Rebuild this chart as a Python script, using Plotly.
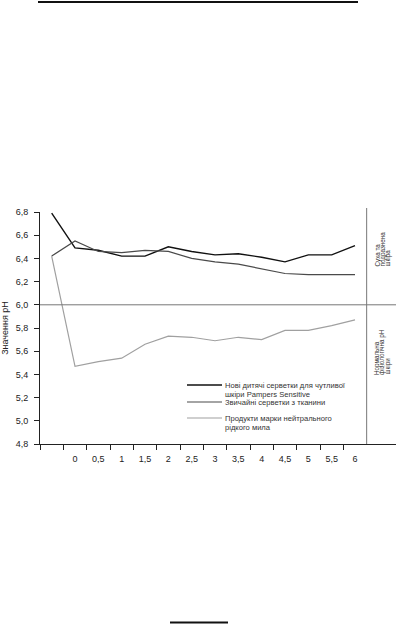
import plotly.graph_objects as go

# Data
x_labels = ["", "0", "0,5", "1", "1,5", "2", "2,5", "3", "3,5", "4", "4,5", "5", "5,5", "6"]
pampers = [6.79, 6.49, 6.47, 6.42, 6.42, 6.50, 6.46, 6.43, 6.44, 6.41, 6.37, 6.43, 6.43, 6.51]
cloth = [6.42, 6.55, 6.46, 6.45, 6.47, 6.46, 6.40, 6.37, 6.35, 6.31, 6.27, 6.26, 6.26, 6.26]
soap = [6.42, 5.47, 5.51, 5.54, 5.66, 5.73, 5.72, 5.69, 5.72, 5.70, 5.78, 5.78, 5.82, 5.87]
names = [
    ["Нові дитячі серветки для чутливої", "шкіри Pampers Sensitive"],
    ["Звичайні серветки з тканини"],
    ["Продукти марки нейтрального", "рідкого мила"],
]
y_ticks = [4.8, 5.0, 5.2, 5.4, 5.6, 5.8, 6.0, 6.2, 6.4, 6.6, 6.8]
y_ticktext = ["4,8", "5,0", "5,2", "5,4", "5,6", "5,8", "6,0", "6,2", "6,4", "6,6", "6,8"]
zone_top = ["Суха та", "подразнена", "шкіра"]
zone_bottom = ["Нормальна", "фізіологічна рН", "шкіри"]

W, H = 396, 624
L, R, T, B = 40, 396, 212, 444  # plot area in pixels

def px(x):
    return (x - L) / (R - L)

def py(y):
    return (B - y) / (B - T)

xs = list(range(len(x_labels)))
fig = go.Figure()
colors = ["#111111", "#4a4a4a", "#a0a0a0"]
widths = [1.4, 1.2, 1.2]
for vals, nm, c, w in zip([pampers, cloth, soap], names, colors, widths):
    fig.add_trace(go.Scatter(x=xs, y=vals, mode="lines", name=" ".join(nm),
                             line=dict(color=c, width=w), showlegend=False))

fig.update_layout(
    width=W, height=H,
    margin=dict(l=L, r=W - R, t=T, b=H - B),
    paper_bgcolor="white", plot_bgcolor="white",
    font=dict(family="Liberation Sans, Arial, sans-serif", color="#222", size=9),
    showlegend=False,
    xaxis=dict(range=[-0.5, 14.757], tickmode="array",
               tickvals=xs[1:], ticktext=x_labels[1:], ticks="outside",
               ticklen=6, tickcolor="rgba(0,0,0,0)", showgrid=False,
               showline=True, linecolor="#222", linewidth=1, zeroline=False,
               minor=dict(tickmode="array", tickvals=[i - 0.5 for i in range(14)],
                          ticks="outside", ticklen=5, tickcolor="#222", tickwidth=1),
               tickfont=dict(size=9)),
    yaxis=dict(range=[4.8, 6.8], tickmode="array", tickvals=y_ticks,
               ticktext=y_ticktext, ticks="outside", ticklen=5, tickcolor="#222",
               showgrid=False, showline=True, linecolor="#222", linewidth=1,
               zeroline=False, tickfont=dict(size=9), ticklabelstandoff=4,
               title=dict(text="Значення pH", font=dict(size=9), standoff=7)),
)

shapes = [
    dict(type="line", xref="paper", yref="y", x0=0, x1=1, y0=6.0, y1=6.0,
         line=dict(color="#777", width=1)),
    dict(type="line", xref="x", yref="paper", x0=13.5, x1=13.5, y0=0, y1=py(208),
         line=dict(color="#777", width=1)),
    dict(type="line", xref="paper", yref="paper", x0=px(38), x1=px(358), y0=py(2), y1=py(2),
         line=dict(color="#111", width=2)),
    dict(type="line", xref="paper", yref="paper", x0=px(170), x1=px(228), y0=py(622.5), y1=py(622.5),
         line=dict(color="#111", width=2)),
]
# manual legend
leg_y = [385, 402, 418]
for c, w, yy, nm in zip(colors, widths, leg_y, names):
    shapes.append(dict(type="line", xref="paper", yref="paper", x0=px(187), x1=px(222),
                       y0=py(yy), y1=py(yy), line=dict(color=c, width=w)))
    for j, line in enumerate(nm):
        fig.add_annotation(x=px(224), y=py(yy + 9.5 * j), xref="paper", yref="paper",
                           xanchor="left", yanchor="middle", align="left", text=line,
                           showarrow=False, borderpad=0,
                           font=dict(size=7.6, color="#333"))
fig.update_layout(shapes=shapes)

for lines, ybot in [(zone_top, 268), (zone_bottom, 376)]:
    for i, t in enumerate(lines):
        fig.add_annotation(x=px(377 + 5 * i), y=py(ybot), xref="paper", yref="paper",
                           xanchor="center", yanchor="bottom", text=t, textangle=-90,
                           showarrow=False, borderpad=0, font=dict(size=6.3, color="#333"))

fig.write_html("out.html", config={"displayModeBar": False},
               post_script="document.body.style.margin='0';")
